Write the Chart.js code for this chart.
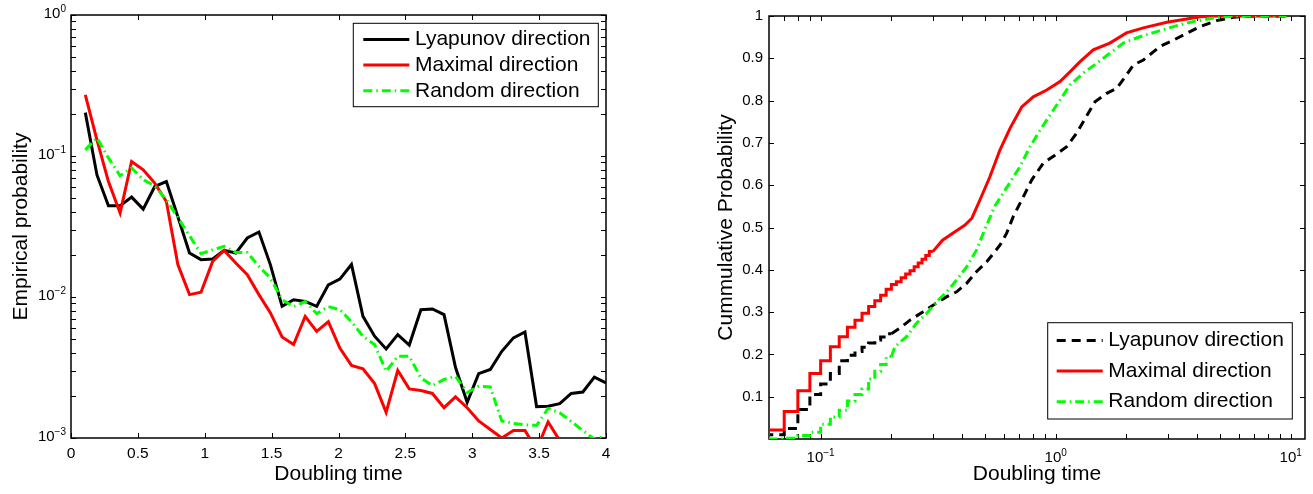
<!DOCTYPE html>
<html>
<head>
<meta charset="utf-8">
<title>Doubling time distributions</title>
<script src="https://cdn.jsdelivr.net/npm/chart.js@4.4.1/dist/chart.umd.min.js"></script>
<style>
  html, body { margin: 0; padding: 0; background: #fff; }
  #wrap { position: relative; width: 1313px; height: 494px; }
  canvas { position: absolute; top: 0; }
  #left { left: 0; }
  #right { left: 656px; }
</style>
</head>
<body>
<div id="wrap">
  <canvas id="left" width="656" height="494"></canvas>
  <canvas id="right" width="657" height="494"></canvas>
</div>
<script>
// Left panel: empirical probability of doubling time (histogram bins)
const doublingTime = [0.107, 0.194, 0.280, 0.367, 0.453, 0.540, 0.626, 0.713, 0.799, 0.886,
  0.972, 1.059, 1.145, 1.232, 1.318, 1.405, 1.491, 1.578, 1.664, 1.751,
  1.837, 1.924, 2.010, 2.097, 2.183, 2.270, 2.356, 2.443, 2.529, 2.616,
  2.702, 2.789, 2.875, 2.962, 3.048, 3.135, 3.221, 3.308, 3.394, 3.481,
  3.567, 3.654, 3.740, 3.827, 3.913, 4.000];
const lyapunovProb = [0.203, 0.0734, 0.0443, 0.0443, 0.0511, 0.0420, 0.0608, 0.0659, 0.0371, 0.0205,
  0.0184, 0.0186, 0.0214, 0.0205, 0.0262, 0.0289, 0.0169, 0.00859, 0.00957, 0.00931,
  0.00859, 0.0122, 0.0134, 0.0170, 0.00729, 0.00527, 0.00428, 0.00541, 0.00456, 0.00813,
  0.00823, 0.00750, 0.00316, 0.00179, 0.00286, 0.00306, 0.00412, 0.00513, 0.00565, 0.00167,
  0.00168, 0.00175, 0.00207, 0.00212, 0.00270, 0.00246];
const maximalProb = [0.271, 0.130, 0.0659, 0.0394, 0.0914, 0.0798, 0.0642, 0.0476, 0.0170, 0.0104,
  0.0108, 0.0179, 0.0214, 0.0174, 0.0144, 0.0104, 0.00771, 0.00521, 0.00460, 0.00729,
  0.00571, 0.00668, 0.00434, 0.00327, 0.00309, 0.00243, 0.00152, 0.00301, 0.00223, 0.00217,
  0.00207, 0.00164, 0.00196, 0.00164, 0.00132, 0.00115, 0.00100, 0.00113, 0.00113, 0.00083,
  0.00130, 0.00096, 0.0007, 0.0006, 0.0007, 0.0006];
const randomProb = [0.1106, 0.1345, 0.0970, 0.0724, 0.0824, 0.0678, 0.0615, 0.0489, 0.0365, 0.0272,
  0.0203, 0.0216, 0.0229, 0.0207, 0.0207, 0.0165, 0.0136, 0.00957, 0.00855, 0.00927,
  0.00762, 0.00855, 0.00813, 0.00668, 0.00526, 0.00460, 0.00297, 0.00380, 0.00380, 0.00267,
  0.00235, 0.00260, 0.00274, 0.00210, 0.00233, 0.00230, 0.00132, 0.00127, 0.00124, 0.00123,
  0.00162, 0.00151, 0.00131, 0.00113, 0.00098, 0.00103];

// Right panel: cumulative probability (stair part at small times, then fine part)
const lyapunovStepT = [0.06, 0.07, 0.08, 0.09, 0.10, 0.11, 0.12, 0.13, 0.14, 0.15, 0.16, 0.17, 0.18, 0.19, 0.20];
const lyapunovStepF = [0, 0.010, 0.025, 0.070, 0.105, 0.130, 0.155, 0.185, 0.198, 0.207, 0.217, 0.227, 0.234, 0.241, 0.249];
const lyapunovT = [0.20, 0.217, 0.24, 0.273, 0.302, 0.343, 0.379, 0.418, 0.461, 0.509, 0.579, 0.618, 0.66, 0.717,
  0.79, 0.885, 0.993, 1.114, 1.228, 1.376, 1.469, 1.648, 1.818, 2.004, 2.139, 2.36, 2.78, 3.17, 3.61, 4.11,
  4.84, 5.70, 6.93, 9.6];
const lyapunovF = [0.249, 0.262, 0.281, 0.301, 0.317, 0.336, 0.348, 0.368, 0.396, 0.419, 0.458, 0.486, 0.526, 0.565,
  0.612, 0.652, 0.671, 0.691, 0.723, 0.770, 0.797, 0.817, 0.829, 0.861, 0.884, 0.896, 0.928, 0.943, 0.959, 0.975,
  0.989, 0.997, 1.0, 1.0];

const maximalStepT = [0.06, 0.07, 0.08, 0.09, 0.10, 0.11, 0.12, 0.13, 0.14, 0.15, 0.16, 0.17, 0.18, 0.19, 0.20,
  0.21, 0.22, 0.23, 0.24, 0.25, 0.26, 0.27, 0.28, 0.29, 0.30];
const maximalStepF = [0, 0.021, 0.065, 0.114, 0.155, 0.185, 0.218, 0.242, 0.264, 0.281, 0.297, 0.313, 0.327, 0.340, 0.354,
  0.365, 0.372, 0.381, 0.390, 0.398, 0.407, 0.416, 0.425, 0.434, 0.443];
const maximalT = [0.30, 0.33, 0.37, 0.41, 0.44, 0.476, 0.525, 0.579, 0.64, 0.717, 0.803, 0.916, 1.043, 1.15,
  1.27, 1.445, 1.70, 2.00, 2.36, 2.97, 3.61, 4.11, 4.6, 9.6];
const maximalF = [0.443, 0.470, 0.489, 0.505, 0.522, 0.565, 0.620, 0.683, 0.735, 0.785, 0.809, 0.825, 0.845, 0.868,
  0.892, 0.920, 0.936, 0.960, 0.972, 0.985, 0.993, 0.998, 1.0, 1.0];

const randomStepT = [0.06, 0.07, 0.08, 0.09, 0.10, 0.11, 0.12, 0.13, 0.14, 0.15, 0.16, 0.17, 0.18, 0.19, 0.20];
const randomStepF = [0, 0, 0.002, 0.008, 0.016, 0.035, 0.052, 0.068, 0.090, 0.105, 0.118, 0.142, 0.160, 0.176, 0.195];
const randomT = [0.20, 0.207, 0.232, 0.256, 0.2825, 0.312, 0.344, 0.379, 0.418, 0.461, 0.495, 0.55, 0.62, 0.705,
  0.778, 0.858, 0.946, 1.043, 1.151, 1.31, 1.493, 1.70, 1.94, 2.28, 2.69, 3.17, 3.85, 4.69, 5.70, 9.6];
const randomF = [0.195, 0.218, 0.242, 0.274, 0.297, 0.325, 0.348, 0.376, 0.407, 0.447, 0.490, 0.550, 0.595, 0.644,
  0.691, 0.730, 0.766, 0.801, 0.837, 0.865, 0.888, 0.912, 0.936, 0.951, 0.963, 0.975, 0.987, 0.995, 1.0, 1.0];

// Tick labels
const leftXTicks = [0, 0.5, 1, 1.5, 2, 2.5, 3, 3.5, 4];
const leftYDecades = [0.001, 0.01, 0.1, 1];
const leftYExponents = ['\u22123', '\u22122', '\u22121', '0'];
const rightXDecades = [0.1, 1, 10];
const rightXExponents = ['\u22121', '0', '1'];
const rightYTicks = [0.1, 0.2, 0.3, 0.4, 0.5, 0.6, 0.7, 0.8, 0.9, 1];

const FONT = '"Liberation Sans", Arial, Helvetica, sans-serif';
Chart.defaults.font.family = FONT;
Chart.defaults.color = '#000';

const BLACK = '#000000', RED = '#ff0000', GREEN = '#00ff00';
const DASH = [9, 6];
const DASH_DOT = [9, 4, 1.5, 4];

function pts(xs, ys) {
  return xs.map((x, i) => ({ x: x, y: ys[i] }));
}

// minor ticks 2..9 x 10^n inside [lo, hi]
function logMinor(lo, hi) {
  const out = [];
  for (let e = Math.floor(Math.log10(lo)); e <= Math.ceil(Math.log10(hi)); e++) {
    for (let m = 2; m <= 9; m++) {
      const v = m * Math.pow(10, e);
      if (v > lo && v < hi) out.push(v);
    }
  }
  return out;
}

// Box round the axes with inward ticks on all four sides
const frame = {
  id: 'frame',
  beforeDatasetsDraw(chart, args, o) {
    const { ctx, chartArea: a, scales } = chart;
    const len = 5;
    ctx.save();
    ctx.strokeStyle = '#000';
    ctx.lineWidth = 1;
    ctx.beginPath();
    o.xTicks.forEach(v => {
      const p = Math.round(scales.x.getPixelForValue(v)) + 0.5;
      ctx.moveTo(p, a.bottom); ctx.lineTo(p, a.bottom - len);
      ctx.moveTo(p, a.top); ctx.lineTo(p, a.top + len);
    });
    o.yTicks.forEach(v => {
      const p = Math.round(scales.y.getPixelForValue(v)) + 0.5;
      ctx.moveTo(a.left, p); ctx.lineTo(a.left + len, p);
      ctx.moveTo(a.right, p); ctx.lineTo(a.right - len, p);
    });
    ctx.stroke();
    ctx.lineWidth = 1.5;
    ctx.strokeRect(a.left, a.top, a.right - a.left, a.bottom - a.top);
    ctx.restore();
  }
};

// "10" with a raised exponent at each decade of a log axis
const decadeTicks = {
  id: 'decadeTicks',
  afterDraw(chart, args, o) {
    const { ctx, chartArea: a } = chart;
    const s = chart.scales[o.axis];
    ctx.save();
    ctx.fillStyle = '#000';
    ctx.textAlign = 'left';
    ctx.textBaseline = 'alphabetic';
    o.values.forEach((v, i) => {
      const p = s.getPixelForValue(v);
      ctx.font = '15px ' + FONT;
      const wb = ctx.measureText('10').width;
      ctx.font = '10px ' + FONT;
      const we = ctx.measureText(o.exponents[i]).width;
      let x, y;
      if (o.axis === 'y') {
        x = a.left - 5 - wb - we;
        y = p + 3;
      } else {
        x = p - (wb + we) / 2;
        y = a.bottom + 23;
      }
      ctx.font = '15px ' + FONT;
      ctx.fillText('10', x, y);
      ctx.font = '10px ' + FONT;
      ctx.fillText(o.exponents[i], x + wb, y - 6.2);
    });
    ctx.restore();
  }
};

// MATLAB-style legend box drawn inside the axes
const boxLegend = {
  id: 'boxLegend',
  afterDatasetsDraw(chart, args, o) {
    const { ctx, chartArea: a } = chart;
    const x0 = a.right - o.right - o.width;
    const y0 = o.top != null ? a.top + o.top : a.bottom - o.bottom - o.height;
    ctx.save();
    ctx.fillStyle = '#fff';
    ctx.fillRect(x0, y0, o.width, o.height);
    ctx.strokeStyle = '#000';
    ctx.lineWidth = 1;
    ctx.strokeRect(x0, y0, o.width, o.height);
    ctx.font = '21px ' + FONT;
    ctx.textBaseline = 'middle';
    o.items.forEach((it, i) => {
      const y = y0 + o.firstRow + i * o.rowGap;
      ctx.beginPath();
      ctx.setLineDash(it.dash || []);
      ctx.strokeStyle = it.color;
      ctx.lineWidth = 3;
      ctx.moveTo(x0 + o.sampleStart, y);
      ctx.lineTo(x0 + o.sampleStart + 46, y);
      ctx.stroke();
      ctx.setLineDash([]);
      ctx.fillStyle = '#000';
      ctx.fillText(it.label, x0 + o.textStart, y);
    });
    ctx.restore();
  }
};

const common = {
  responsive: false,
  animation: false,
  events: [],
  elements: { point: { radius: 0 }, line: { borderWidth: 3, tension: 0 } }
};
const noGrid = { display: false, drawTicks: false, tickLength: 0 };

// ---- left chart
new Chart(document.getElementById('left'), {
  type: 'line',
  data: {
    datasets: [
      { data: pts(doublingTime, randomProb), borderColor: GREEN, borderDash: DASH_DOT, order: 0 },
      { data: pts(doublingTime, maximalProb), borderColor: RED, order: 1 },
      { data: pts(doublingTime, lyapunovProb), borderColor: BLACK, order: 2 }
    ]
  },
  options: {
    ...common,
    layout: { padding: { left: 0, top: 15, right: 50, bottom: 0 } },
    plugins: {
      legend: { display: false },
      tooltip: { enabled: false },
      frame: { xTicks: leftXTicks, yTicks: leftYDecades.concat(logMinor(0.001, 1)) },
      decadeTicks: { axis: 'y', values: leftYDecades, exponents: leftYExponents },
      boxLegend: {
        right: 7.7, top: 8.3, width: 245, height: 83.4,
        sampleStart: 10, textStart: 61.7, firstRow: 16.1, rowGap: 25.7,
        items: [
          { label: 'Lyapunov direction', color: BLACK },
          { label: 'Maximal direction', color: RED },
          { label: 'Random direction', color: GREEN, dash: DASH_DOT }
        ]
      }
    },
    scales: {
      x: {
        type: 'linear', min: 0, max: 4,
        grid: noGrid, border: { display: false },
        afterBuildTicks: s => { s.ticks = leftXTicks.map(v => ({ value: v })); },
        ticks: { padding: 6, maxRotation: 0, autoSkip: false, font: { size: 15.5 }, callback: v => String(v) },
        title: { display: true, text: 'Doubling time', font: { size: 21 }, padding: { top: 0, bottom: 7 } },
        afterFit: s => { s.height = 56; }
      },
      y: {
        type: 'logarithmic', min: 0.001, max: 1,
        grid: noGrid, border: { display: false },
        ticks: { display: false },
        title: { display: true, text: 'Empirical probability', font: { size: 21 }, padding: { top: 9, bottom: 0 } },
        afterFit: s => { s.width = 71; }
      }
    }
  },
  plugins: [frame, decadeTicks, boxLegend]
});

// ---- right chart
const stepStyle = { stepped: 'after' };
new Chart(document.getElementById('right'), {
  type: 'line',
  data: {
    datasets: [
      { data: pts(randomStepT, randomStepF), borderColor: GREEN, borderDash: DASH_DOT, ...stepStyle, order: 0 },
      { data: pts(randomT, randomF), borderColor: GREEN, borderDash: DASH_DOT, order: 1 },
      { data: pts(maximalStepT, maximalStepF), borderColor: RED, ...stepStyle, order: 2 },
      { data: pts(maximalT, maximalF), borderColor: RED, order: 3 },
      { data: pts(lyapunovStepT, lyapunovStepF), borderColor: BLACK, borderDash: DASH, ...stepStyle, order: 4 },
      { data: pts(lyapunovT, lyapunovF), borderColor: BLACK, borderDash: DASH, order: 5 }
    ]
  },
  options: {
    ...common,
    layout: { padding: { left: 50, top: 16, right: 8, bottom: 0 } },
    plugins: {
      legend: { display: false },
      tooltip: { enabled: false },
      frame: { xTicks: rightXDecades.concat(logMinor(0.0603, 11.5)), yTicks: rightYTicks },
      decadeTicks: { axis: 'x', values: rightXDecades, exponents: rightXExponents },
      boxLegend: {
        right: 12.7, bottom: 20, width: 244.6, height: 96.3,
        sampleStart: 9, textStart: 60.6, firstRow: 17.8, rowGap: 30.6,
        items: [
          { label: 'Lyapunov direction', color: BLACK, dash: DASH },
          { label: 'Maximal direction', color: RED },
          { label: 'Random direction', color: GREEN, dash: DASH_DOT }
        ]
      }
    },
    scales: {
      x: {
        type: 'logarithmic', min: 0.0603, max: 11.5,
        grid: noGrid, border: { display: false },
        ticks: { display: false },
        title: { display: true, text: 'Doubling time', font: { size: 21 }, padding: { top: 0, bottom: 7 } },
        afterFit: s => { s.height = 55; }
      },
      y: {
        type: 'linear', min: 0, max: 1,
        grid: noGrid, border: { display: false },
        afterBuildTicks: s => { s.ticks = rightYTicks.map(v => ({ value: v })); },
        ticks: { padding: 6, autoSkip: false, font: { size: 15 }, callback: v => String(v) },
        title: { display: true, text: 'Cummulative Probability', font: { size: 21 }, padding: { top: 7.4, bottom: 0 } },
        afterFit: s => { s.width = 63; }
      }
    }
  },
  plugins: [frame, decadeTicks, boxLegend]
});
</script>
</body>
</html>
